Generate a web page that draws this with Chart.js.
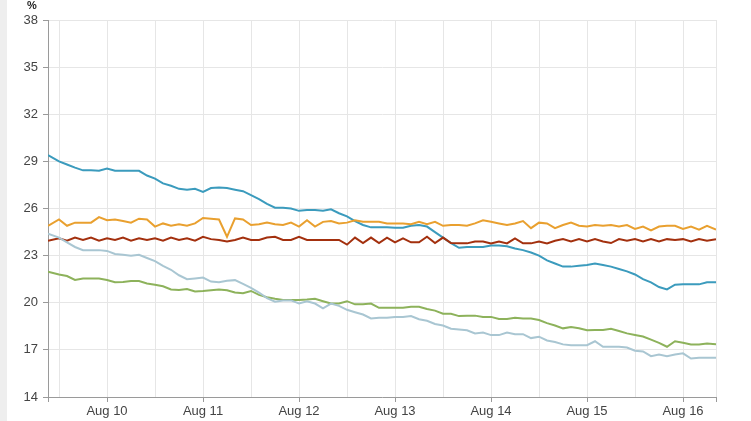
<!DOCTYPE html>
<html>
<head>
<meta charset="utf-8">
<script src="https://cdn.jsdelivr.net/npm/chart.js@4/dist/chart.umd.min.js"></script>
<style>
  html, body { margin: 0; padding: 0; background: #fff; }
  #wrap {
    position: relative; width: 751px; height: 421px;
    background: linear-gradient(to right, #eeeeee 0, #eeeeee 7px, #ffffff 7px);
  }
</style>
</head>
<body>
<div id="wrap"><canvas id="chart" width="751" height="421"></canvas></div>
<script>
// hours counted from Aug 9 00:00
const hours = [
  9.25, 12, 14, 16, 18, 20, 22,
  24, 26, 28, 30, 32, 34, 36, 38, 40, 42, 44, 46,
  48, 50, 52, 54, 56, 58, 60, 62, 64, 66, 68, 70,
  72, 74, 76, 78, 80, 82, 84, 86, 88, 90, 92, 94,
  96, 98, 100, 102, 104, 106, 108, 110, 112, 114, 116, 118,
  120, 122, 124, 126, 128, 130, 132, 134, 136, 138, 140, 142,
  144, 146, 148, 150, 152, 154, 156, 158, 160, 162, 164, 166,
  168, 170, 172, 174, 176.25
];

const blueSeries = [
  29.4, 29.0, 28.8, 28.6, 28.43, 28.43, 28.4,
  28.55, 28.4, 28.4, 28.4, 28.4, 28.1, 27.9, 27.6, 27.45, 27.25, 27.2, 27.25,
  27.05, 27.3, 27.33, 27.3, 27.2, 27.1, 26.85, 26.6, 26.3, 26.05, 26.05, 26.0,
  25.85, 25.9, 25.9, 25.85, 25.95, 25.7, 25.5, 25.2, 24.95, 24.8, 24.8, 24.8,
  24.78, 24.78, 24.9, 24.95, 24.85, 24.5, 24.15, 23.8, 23.5, 23.55, 23.55, 23.55,
  23.65, 23.65, 23.6, 23.45, 23.35, 23.2, 23.0, 22.7, 22.5, 22.3, 22.3, 22.35,
  22.4, 22.5, 22.4, 22.3, 22.15, 22.0, 21.8, 21.5, 21.3, 21.0, 20.85, 21.15,
  21.17, 21.17, 21.17, 21.3, 21.3
];

const orangeSeries = [
  24.9, 25.3, 24.9, 25.1, 25.1, 25.1, 25.45,
  25.25, 25.3, 25.2, 25.1, 25.35, 25.3, 24.85, 25.05, 24.9, 25.0, 24.9, 25.05,
  25.4, 25.35, 25.3, 24.2, 25.37, 25.3, 24.95, 25.0, 25.1, 25.0, 24.95, 25.1,
  24.85, 25.25, 24.85, 25.15, 25.2, 25.05, 25.1, 25.25, 25.15, 25.15, 25.15, 25.05,
  25.05, 25.05, 25.0, 25.15, 25.0, 25.15, 24.9, 24.95, 24.95, 24.9, 25.05, 25.25,
  25.15, 25.05, 24.95, 25.05, 25.2, 24.75, 25.1, 25.05, 24.75, 24.95, 25.1, 24.9,
  24.85, 24.95, 24.9, 24.95, 24.85, 24.95, 24.7, 24.85, 24.6, 24.85, 24.9, 24.9,
  24.7, 24.85, 24.65, 24.9, 24.65
];

const redSeries = [
  23.95, 24.1, 23.95, 24.15, 24.0, 24.15, 23.95,
  24.1, 24.0, 24.15, 23.95, 24.1, 24.0, 24.1, 23.95, 24.15, 24.0, 24.1, 23.95,
  24.2, 24.05, 24.0, 23.9, 24.0, 24.15, 24.0, 24.0, 24.15, 24.2, 24.0, 24.0,
  24.2, 24.0, 24.0, 24.0, 24.0, 24.0, 23.7, 24.15, 23.8, 24.15, 23.8, 24.15,
  23.85, 24.1, 23.85, 23.85, 24.2, 23.8, 24.15, 23.8, 23.78, 23.78, 23.9, 23.9,
  23.78, 23.9, 23.78, 24.1, 23.78, 23.78, 23.9, 23.78, 23.95, 24.05, 23.9, 24.05,
  23.9, 24.05, 23.9, 23.8, 24.05, 23.95, 24.05, 23.9, 24.05, 23.9, 24.05, 24.0,
  24.05, 23.9, 24.05, 23.95, 24.05
];

const greySeries = [
  24.4, 24.15, 23.85, 23.55, 23.35, 23.35, 23.35,
  23.3, 23.1, 23.05, 23.0, 23.05, 22.85, 22.65, 22.35, 22.1, 21.75, 21.5, 21.55,
  21.6, 21.35, 21.3, 21.4, 21.44, 21.2, 20.95, 20.65, 20.3, 20.07, 20.15, 20.15,
  19.95, 20.1, 19.95, 19.65, 19.95, 19.8, 19.55, 19.4, 19.25, 19.0, 19.05, 19.05,
  19.1, 19.1, 19.15, 18.95, 18.85, 18.65, 18.55, 18.35, 18.3, 18.25, 18.05, 18.1,
  17.94, 17.94, 18.1, 18.0, 18.0, 17.75, 17.84, 17.6, 17.5, 17.35, 17.3, 17.3,
  17.3, 17.55, 17.2, 17.2, 17.2, 17.15, 16.95, 16.9, 16.6, 16.7, 16.6, 16.7,
  16.78, 16.45, 16.5, 16.5, 16.5
];

const greenSeries = [
  21.98, 21.8, 21.7, 21.45, 21.55, 21.55, 21.55,
  21.45, 21.3, 21.32, 21.38, 21.38, 21.23, 21.15, 21.05, 20.85, 20.81, 20.88, 20.72,
  20.75, 20.8, 20.85, 20.8, 20.65, 20.6, 20.75, 20.5, 20.35, 20.25, 20.17, 20.17,
  20.17, 20.2, 20.25, 20.1, 19.96, 19.96, 20.1, 19.9, 19.9, 19.95, 19.68, 19.68,
  19.68, 19.68, 19.75, 19.75, 19.6, 19.5, 19.3, 19.3, 19.15, 19.18, 19.18, 19.1,
  19.1, 18.96, 18.96, 19.05, 19.0, 19.0, 18.9, 18.7, 18.55, 18.37, 18.45, 18.38,
  18.25, 18.26, 18.26, 18.35, 18.2, 18.05, 17.95, 17.85, 17.65, 17.45, 17.2, 17.55,
  17.45, 17.35, 17.35, 17.4, 17.35
];

// x axis: grid every 12 hours, labels at midnight
const xTicks = [9.25, 12, 24, 36, 48, 60, 72, 84, 96, 108, 120, 132, 144, 156, 168, 176.25];
const dayHours = [24, 48, 72, 96, 120, 144, 168];
const dayLabels = ['Aug 10', 'Aug 11', 'Aug 12', 'Aug 13', 'Aug 14', 'Aug 15', 'Aug 16'];

const toPoints = arr => arr.map((v, i) => ({ x: hours[i], y: v }));

const line = (data, color) => ({
  data: toPoints(data),
  borderColor: color,
  borderWidth: 2,
  pointRadius: 0,
  tension: 0,
  fill: false
});

// small "%" unit label above the y axis
const unitLabel = {
  id: 'unitLabel',
  afterDraw(chart) {
    const c = chart.ctx;
    c.save();
    c.font = 'bold 11px "Liberation Sans", Arial, sans-serif';
    c.fillStyle = '#222';
    c.textBaseline = 'middle';
    c.fillText('%', chart.chartArea.left - 21, 6);
    c.restore();
  }
};

const tickFont = { family: '"Liberation Sans", Arial, sans-serif', size: 13 };

new Chart(document.getElementById('chart'), {
  type: 'line',
  data: {
    datasets: [
      line(greySeries, '#a9c6d2'),
      line(greenSeries, '#8db25b'),
      line(redSeries, '#a3300e'),
      line(orangeSeries, '#e9a02f'),
      line(blueSeries, '#3b9bbd')
    ]
  },
  options: {
    responsive: false,
    animation: false,
    layout: { padding: { top: 20, right: 35, bottom: 0, left: 0 } },
    plugins: { legend: { display: false }, tooltip: { enabled: false } },
    scales: {
      x: {
        type: 'linear',
        min: 9.25,
        max: 176.25,
        afterBuildTicks: s => { s.ticks = xTicks.map(v => ({ value: v })); },
        afterFit: s => { s.height = 24; },
        grid: {
          color: '#e6e6e6',
          tickLength: 5,
          tickColor: c => (c.tick && (dayHours.includes(c.tick.value) || c.tick.value === 9.25 || c.tick.value === 176.25)) ? '#9a9a9a' : 'rgba(0,0,0,0)'
        },
        border: { color: '#9a9a9a', width: 1 },
        ticks: {
          autoSkip: false,
          maxRotation: 0,
          padding: 2,
          color: '#444',
          font: tickFont,
          callback: v => {
            const i = dayHours.indexOf(v);
            return i >= 0 ? dayLabels[i] : '';
          }
        }
      },
      y: {
        min: 14,
        max: 38,
        afterFit: s => { s.width = 48; },
        grid: { color: '#e6e6e6', tickLength: 5, tickColor: '#9a9a9a' },
        border: { color: '#9a9a9a', width: 1 },
        ticks: { stepSize: 3, padding: 5, color: '#444', font: tickFont }
      }
    }
  },
  plugins: [unitLabel]
});
</script>
</body>
</html>
